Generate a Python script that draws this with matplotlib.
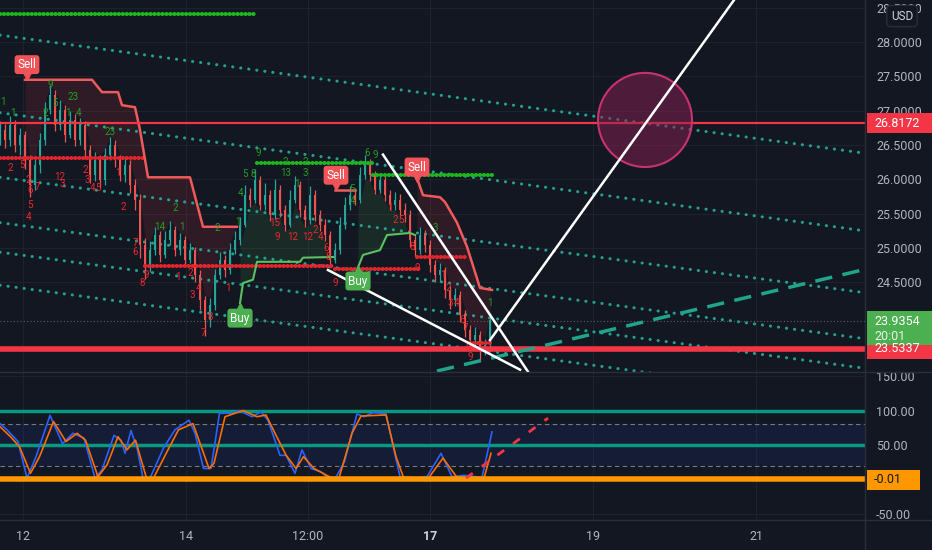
import numpy as np
import matplotlib
matplotlib.use("Agg")
import matplotlib.pyplot as plt
import matplotlib.transforms as mtransforms
from matplotlib.patches import Ellipse, Rectangle
from matplotlib.lines import Line2D

plt.rcParams['font.family'] = ['Roboto', 'DejaVu Sans']

BG = '#131722'
TXT = '#b2b5be'
UP = '#26a69a'
DN = '#ef5350'

# --- candles (x = bar number)
closes = [26.72, 26.57, 26.79, 26.50, 26.65, 26.28, 25.92, 26.21, 26.57, 27.01,
          27.23, 26.79, 27.01, 26.65, 26.86, 26.57, 26.79, 26.43, 26.06, 26.28,
          25.99, 26.36, 26.50, 26.28, 26.06, 26.21, 25.92, 25.70, 25.05, 24.75,
          24.97, 25.19, 24.90, 25.12, 25.26, 24.97, 25.12, 24.83, 24.97, 24.61,
          24.24, 23.95, 24.17, 24.61, 24.83, 24.68, 24.97, 25.12, 25.34, 25.77,
          25.70, 25.99, 25.63, 25.77, 25.48, 25.85, 25.55, 25.34, 25.70, 25.92,
          25.55, 25.41, 25.77, 25.48, 25.34, 25.19, 24.83, 24.97, 25.34, 25.63,
          25.77, 25.70, 26.06, 26.21, 26.06, 25.85, 25.99, 25.77, 25.63, 25.70,
          25.55, 25.48, 25.12, 24.97, 25.19, 25.05, 24.75, 24.61, 24.68, 24.39,
          24.24, 24.32, 24.03, 23.81, 23.66, 23.74, 23.52, 23.59, 23.95]
highs = [26.85, 26.80, 26.92, 26.86, 26.75, 26.70, 26.35, 26.30, 26.68, 27.12,
         27.38, 27.30, 27.15, 27.08, 27.00, 26.95, 26.90, 26.85, 26.50, 26.40,
         26.35, 26.45, 26.62, 26.58, 26.35, 26.32, 26.28, 26.00, 25.78, 25.15,
         25.10, 25.30, 25.25, 25.25, 25.40, 25.32, 25.22, 25.18, 25.08, 25.02,
         24.68, 24.30, 24.28, 24.70, 24.95, 24.90, 25.08, 25.25, 25.45, 25.92,
         25.88, 26.15, 26.05, 25.95, 25.85, 26.00, 25.92, 25.62, 25.85, 26.05,
         25.98, 25.62, 25.90, 25.85, 25.55, 25.42, 25.25, 25.08, 25.45, 25.75,
         25.90, 25.88, 26.18, 26.35, 26.30, 26.12, 26.10, 26.05, 25.85, 25.82,
         25.78, 25.65, 25.55, 25.20, 25.30, 25.26, 25.12, 24.82, 24.78, 24.72,
         24.45, 24.42, 24.38, 24.10, 23.88, 23.85, 23.80, 23.68, 24.05]
lows = [26.50, 26.45, 26.48, 26.40, 26.35, 26.15, 25.74, 25.85, 26.10, 26.50,
        26.95, 26.70, 26.72, 26.55, 26.60, 26.48, 26.50, 26.30, 25.95, 25.98,
        25.88, 25.92, 26.28, 26.18, 25.98, 25.96, 25.80, 25.55, 24.85, 24.55,
        24.65, 24.90, 24.80, 24.85, 25.05, 24.88, 24.90, 24.75, 24.78, 24.50,
        24.10, 23.72, 23.85, 24.10, 24.55, 24.58, 24.62, 24.92, 25.05, 25.30,
        25.60, 25.65, 25.55, 25.55, 25.40, 25.42, 25.45, 25.25, 25.30, 25.65,
        25.45, 25.30, 25.35, 25.40, 25.25, 25.10, 24.72, 24.78, 24.92, 25.28,
        25.55, 25.62, 25.65, 26.00, 25.98, 25.78, 25.80, 25.68, 25.55, 25.55,
        25.45, 25.38, 25.02, 24.88, 24.92, 24.95, 24.65, 24.50, 24.52, 24.28,
        24.12, 24.15, 23.92, 23.70, 23.55, 23.58, 23.37, 23.45, 23.52]
first_open = 26.60

time_ticks = [4.6, 37.2, 61.6, 86, 118.6, 151.2]
time_labels = ['12', '14', '12:00', '17', '19', '21']
price_ticks = [24.5, 25.0, 25.5, 26.0, 26.5, 27.0, 27.5, 28.0, 28.5]
osc_ticks = [-50, 50, 100, 150]

last_price = 23.9354
res_level = 26.8172
sup_level = 23.5337
osc_last = -0.01
countdown = '20:01'

# trailing stops
red_stop1_x = [5, 18.4, 20.4, 23.6, 24.4, 27, 28, 29.6, 38, 40.6, 47.4]
red_stop1_y = [27.45, 27.45, 27.27, 27.27, 27.08, 27.05, 26.72, 26.03, 26.03, 25.31, 25.31]
red_stop2_x = [67, 71]
red_stop2_y = [25.85, 25.85]
red_stop3_x = [83.4, 84.6, 88, 89, 91.4, 93.4, 96, 98.4]
red_stop3_y = [26.02, 25.77, 25.74, 25.67, 25.37, 25.02, 24.42, 24.39]
green_stop1_x = [48, 48.6, 50.6, 51.4, 60, 60.6, 66.6]
green_stop1_y = [24.20, 24.49, 24.54, 24.80, 24.80, 24.86, 24.87]
green_stop2_x = [71.6, 72.6, 76, 77.4, 82, 83]
green_stop2_y = [24.72, 24.90, 24.97, 25.19, 25.22, 25.19]

# horizontal dotted levels: (x start, x end, price)
green_lvl_x0 = [0, 51.4, 74.6]
green_lvl_x1 = [51.2, 74.6, 98.6]
green_lvl_y = [28.41, 26.24, 26.06]
red_lvl_x0 = [0, 29, 67, 83.4, 94]
red_lvl_x1 = [28.6, 67, 84, 93.6, 98.6]
red_lvl_y = [26.31, 24.74, 24.70, 24.87, 23.62]

# sloping dotted channel
chan_x = [0, 173]
chan_start = [28.10, 26.97, 26.03, 25.37, 24.94, 24.46]
chan_end = [26.38, 25.25, 24.35, 23.68, 23.25, 22.76]

dash_x = [87.4, 172.4]
dash_y = [23.21, 24.68]

w1_x = [76.6, 105.6]
w1_y = [26.36, 23.20]
w2_x = [65.6, 104]
w2_y = [24.68, 23.23]
w3_x = [98, 146.8]
w3_y = [23.66, 28.61]

circle_x, circle_y = 129, 26.865
circle_w, circle_h = 18.8, 1.37

sell_x = [5.4, 67.2, 83.4]
sell_y = [27.67, 26.06, 26.18]
buy_x = [48, 71.6]
buy_y = [23.98, 24.52]

td_up_x = [0.6, 2.6, 9, 10, 11, 14.6, 13.6, 15.6, 22, 32, 35, 36.4, 43.4, 47.6, 48, 49,
           50.6, 51.6, 57, 57.2, 61, 61, 59.4, 70.6, 70.4, 73.4, 75, 87, 98]
td_up_y = [27.13, 26.97, 26.97, 27.37, 27.11, 27.20, 26.97, 26.97, 26.69, 25.31, 25.58,
           25.31, 25.29, 25.38, 25.80, 26.08, 26.08, 26.38, 26.25, 26.09, 26.25, 26.09,
           25.93, 25.69, 25.86, 26.38, 26.36, 25.29, 24.20]
td_up_txt = ['1', '1', '2', '9', '5', '23', '1', '4', '23', '14', '2', '1', '2', '1', '4', '5',
             '8', '9', '2', '13', '2', '3', '1', '4', '5', '6', '9', '3', '1']
td_dn_x = [2, 4.4, 5.6, 6, 7.4, 6, 5.6, 12, 12.4, 17, 17.4, 18.4, 19.6, 23.6, 24.6, 27, 27,
           28.4, 29.2, 35.6, 38, 38.4, 39.8, 40.6, 42, 45.6, 55, 55.4, 58.6, 61.6, 63, 64,
           65.2, 65.6, 67, 78, 79, 80.2, 82.4, 83.4, 88.6, 89.6, 90.0, 91.4, 92.4, 93, 93.6, 94]
td_dn_y = [26.17, 26.21, 25.99, 25.85, 25.89, 25.63, 25.45, 26.03, 25.93, 26.14, 25.99,
           25.87, 25.87, 26.09, 25.60, 25.07, 24.94, 24.49, 24.61, 24.58, 24.64, 24.32,
           24.42, 23.76, 24.00, 24.42, 25.37, 25.16, 25.16, 25.16, 25.26, 25.16, 25.00,
           24.87, 24.49, 25.58, 25.41, 25.41, 25.02, 24.71, 24.61, 24.42, 24.20, 24.20,
           23.95, 23.84, 23.55, 23.41]
td_dn_txt = ['2', '5', '2', '6', '7', '5', '4', '12', '3', '2', '3', '4', '5', '1', '2', '7',
             '6', '8', '9', '1', '2', '3', '4', '7', '8', '1', '15', '9', '12', '12', '2', '4',
             '6', '8', '9', '1', '2', '5', '8', '9', '1', '2', '3', '4', '6', '7', '8', '9']

# oscillator (%K blue, %D orange)
k_x = [0, 1.4, 3.6, 5.4, 7.2, 10, 12.5, 14.6, 16.8, 19, 20.4, 22.8, 24.2, 25, 26.2, 27.5,
       28.6, 30, 32.8, 35, 37.8, 39, 40.7, 42.2, 43.9, 46.4, 47.8, 50.4, 52.2, 53.6, 56,
       57.2, 59, 60.4, 62.2, 64.2, 65.7, 67.1, 68.9, 71.4, 72.8, 74.6, 77.2, 80, 82.8,
       85.4, 88.2, 90.4, 92.8, 96.4, 98.4]
k_val = [81, 72, 55, 2, 33, 93, 52, 67, 60, 2, 14, 64, 57, 38, 71, 43, 2, 2, 47, 72, 86,
         67, 16, 16, 96, 96, 100, 91, 98, 86, 35, 35, 9, 43, 16, 11, 2, 2, 26, 95, 91, 97,
         95, 4, 2, 4, 38, 4, 6, 3, 69]
d_x = [0, 2.1, 3.9, 6.1, 7.9, 10.7, 13.2, 15.4, 17.1, 19.6, 21.4, 23.6, 25.4, 27.1, 29.3,
       30.7, 33.6, 35.7, 38.6, 41.8, 42.8, 45, 48.6, 51.4, 53.2, 55, 57.2, 59.2, 60.7,
       62.8, 66.4, 67.8, 70.4, 72.2, 77.2, 79.2, 80.7, 85.7, 88.6, 91.4, 96.8, 98.2]
d_val = [76.5, 62, 47.5, 9, 33, 84, 55, 67, 57, 4, 21, 62, 43, 57, 2, 2, 43, 72, 81, 16,
         23.5, 91, 100, 91, 93.5, 67, 35.5, 16, 33, 16, 2, 2, 67, 92, 93.5, 33, 3, 2, 31,
         3, 2, 38]
proj_x = [93.2, 109.6]
proj_y = [2, 89]

fig = plt.figure(figsize=(9.32, 5.5), dpi=100, facecolor=BG)
ax = fig.add_axes([0, 178 / 550, 865 / 932, 372 / 550], facecolor=BG)
osc = fig.add_axes([0, 30 / 550, 865 / 932, 148 / 550], facecolor=BG)

for a in (ax, osc):
    for s in a.spines.values():
        s.set_visible(False)
    a.set_xlim(0, 173)
    a.yaxis.tick_right()
    a.set_axisbelow(True)
    a.grid(True, color='#1e222d', lw=0.8)
    a.tick_params(axis='y', length=0, pad=8, labelsize=9, colors=TXT)

ax.set_ylim(23.196, 28.611)
osc.set_ylim(-58.7, 155.8)
ax.set_xticks(time_ticks)
ax.tick_params(axis='x', length=0, labelbottom=False)
ax.set_yticks(price_ticks, ['%.4f' % v for v in price_ticks])
osc.set_yticks(osc_ticks, ['%.2f' % v for v in osc_ticks])
osc.set_xticks(time_ticks, time_labels)
osc.tick_params(axis='x', length=0, pad=7, labelsize=9, colors=TXT)
osc.get_xticklabels()[3].set_fontweight('bold')
osc.get_xticklabels()[3].set_color('#d1d4dc')

bars = np.arange(len(closes))
c = np.array(closes)
o = np.r_[first_open, c[:-1]]
col = np.where(c >= o, UP, DN)


def shade(sx, sy, ref, color, above):
    xs = np.linspace(sx[0], min(sx[-1], bars[-1]), 300)
    s = np.interp(xs, sx, sy)
    r = np.interp(xs, bars, ref)
    mask = s > r if above else s < r
    ax.fill_between(xs, s, r, where=mask, color=color, alpha=0.13, lw=0, zorder=1)


shade(red_stop1_x, red_stop1_y, highs, '#f23645', True)
shade(red_stop3_x, red_stop3_y, highs, '#f23645', True)
shade(green_stop1_x, green_stop1_y, lows, '#4caf50', False)
shade(green_stop2_x, green_stop2_y, lows, '#4caf50', False)

# channel + levels
for y0, y1 in zip(chan_start, chan_end):
    ax.plot(chan_x, [y0, y1], color='#22a38f', lw=2.2, ls=(0, (0.05, 2.6)),
            dash_capstyle='round', zorder=2)
for x0, x1, y in zip(green_lvl_x0, green_lvl_x1, green_lvl_y):
    ax.plot([x0, x1], [y, y], color='#1fb51f', lw=3, ls=(0, (0.05, 0.9)),
            dash_capstyle='round', zorder=4)
for x0, x1, y in zip(red_lvl_x0, red_lvl_x1, red_lvl_y):
    ax.plot([x0, x1], [y, y], color='#e0262c', lw=3, ls=(0, (0.05, 0.9)),
            dash_capstyle='round', zorder=4)

ax.axhline(last_price, color='#5d606b', lw=0.8, ls=(0, (1, 2)), zorder=2)
ax.axhline(res_level, color='#f23645', lw=1.6, zorder=5)
ax.axhline(sup_level, color='#f23645', lw=4, zorder=5)

# candles
ax.vlines(bars, lows, highs, colors=col, lw=0.9, zorder=3)
ax.bar(bars, np.maximum(np.abs(c - o), 0.015), bottom=np.minimum(o, c), width=0.55,
       color=col, zorder=3)

ax.plot(red_stop1_x, red_stop1_y, color='#f05a5a', lw=1.8, zorder=4)
ax.plot(red_stop2_x, red_stop2_y, color='#f05a5a', lw=1.8, zorder=4)
ax.plot(red_stop3_x, red_stop3_y, color='#f05a5a', lw=1.8, zorder=4)
ax.plot(green_stop1_x, green_stop1_y, color='#5cbf60', lw=1.5, zorder=4)
ax.plot(green_stop2_x, green_stop2_y, color='#5cbf60', lw=1.5, zorder=4)

for x, y, t in zip(td_up_x, td_up_y, td_up_txt):
    ax.text(x, y, t, color='#22a022', fontsize=7, ha='center', va='center', zorder=5)
for x, y, t in zip(td_dn_x, td_dn_y, td_dn_txt):
    ax.text(x, y, t, color='#f0282d', fontsize=7, ha='center', va='center', zorder=5)

ax.plot(dash_x, dash_y, color='#1fa58c', lw=2.5, ls=(0, (5, 3)), zorder=5)
ax.plot(w1_x, w1_y, color='white', lw=1.8, zorder=6)
ax.plot(w2_x, w2_y, color='white', lw=1.8, zorder=6)
ax.plot(w3_x, w3_y, color='white', lw=1.8, zorder=6)
ax.add_patch(Ellipse((circle_x, circle_y), circle_w, circle_h, fc=(0.55, 0.12, 0.32, 0.5),
                     ec='#c8336f', lw=1.5, zorder=5))

down = mtransforms.ScaledTranslation(0, -8 / 72, fig.dpi_scale_trans)
upshift = mtransforms.ScaledTranslation(0, 8 / 72, fig.dpi_scale_trans)
for x, y in zip(sell_x, sell_y):
    ax.plot(x, y, marker='v', ms=6, color='#f05458', transform=ax.transData + down, zorder=7)
    ax.text(x, y, 'Sell', color='white', fontsize=8.5, ha='center', va='center', zorder=8,
            bbox=dict(boxstyle='round,pad=0.25', fc='#f05458', ec='none'))
for x, y in zip(buy_x, buy_y):
    ax.plot(x, y, marker='^', ms=6, color='#4caf50', transform=ax.transData + upshift, zorder=7)
    ax.text(x, y, 'Buy', color='white', fontsize=8.5, ha='center', va='center', zorder=8,
            bbox=dict(boxstyle='round,pad=0.25', fc='#4caf50', ec='none'))

# oscillator pane
osc.fill_between([0, 173], 20, 80, color='#2962ff', alpha=0.09, lw=0)
osc.axhline(80, color='#787b86', lw=0.8, ls=(0, (4, 3)))
osc.axhline(20, color='#787b86', lw=0.8, ls=(0, (4, 3)))
osc.axhline(100, color='#089981', lw=2.5)
osc.axhline(50, color='#089981', lw=2.5)
osc.plot(k_x, k_val, color='#2962ff', lw=1.2, zorder=3)
osc.plot(d_x, d_val, color='#ff6d00', lw=1.2, zorder=3)
osc.axhline(0, color='#ff9800', lw=4, zorder=4)
osc.plot(proj_x, proj_y, color='#f23645', lw=2, ls=(0, (3, 4)), zorder=5)

# separators
fig.add_artist(Line2D([865 / 932] * 2, [0, 1], transform=fig.transFigure, color='#2a2e39', lw=1))
fig.add_artist(Line2D([0, 1], [178 / 550] * 2, transform=fig.transFigure, color='#2a2e39', lw=1))
fig.add_artist(Line2D([0, 1], [30 / 550] * 2, transform=fig.transFigure, color='#2a2e39', lw=1))


def tag(axis, value, text, face, tcolor, w=65, h=20, dy=0):
    y = axis.transData.transform((0, value))[1] + dy
    fig.patches.append(Rectangle((867 / 932, (y - h / 2) / 550), w / 932, h / 550,
                                 transform=fig.transFigure, fc=face, ec='none'))
    fig.text(874 / 932, y / 550, text, color=tcolor, fontsize=9, va='center', ha='left')


tag(ax, res_level, '%.4f' % res_level, '#f23645', 'white')
tag(ax, sup_level, '%.4f' % sup_level, '#f23645', 'white')
yl = ax.transData.transform((0, last_price))[1]
fig.patches.append(Rectangle((867 / 932, (yl - 24) / 550), 65 / 932, 34 / 550,
                             transform=fig.transFigure, fc='#4caf50', ec='none'))
fig.text(874 / 932, yl / 550, '%.4f' % last_price, color='white', fontsize=9, va='center')
fig.text(874 / 932, (yl - 15) / 550, countdown, color='#e8f5e9', fontsize=9, va='center')
tag(osc, osc_last, '%.2f' % osc_last, '#ff9800', '#131722', w=53)

fig.text(902 / 932, 1 - 16 / 550, 'USD', ha='center', va='center', fontsize=8.5,
         color='#d1d4dc', bbox=dict(boxstyle='round,pad=0.35', fc=BG, ec='#2a2e39'))

fig.savefig('out.png', dpi=100, facecolor=BG)
